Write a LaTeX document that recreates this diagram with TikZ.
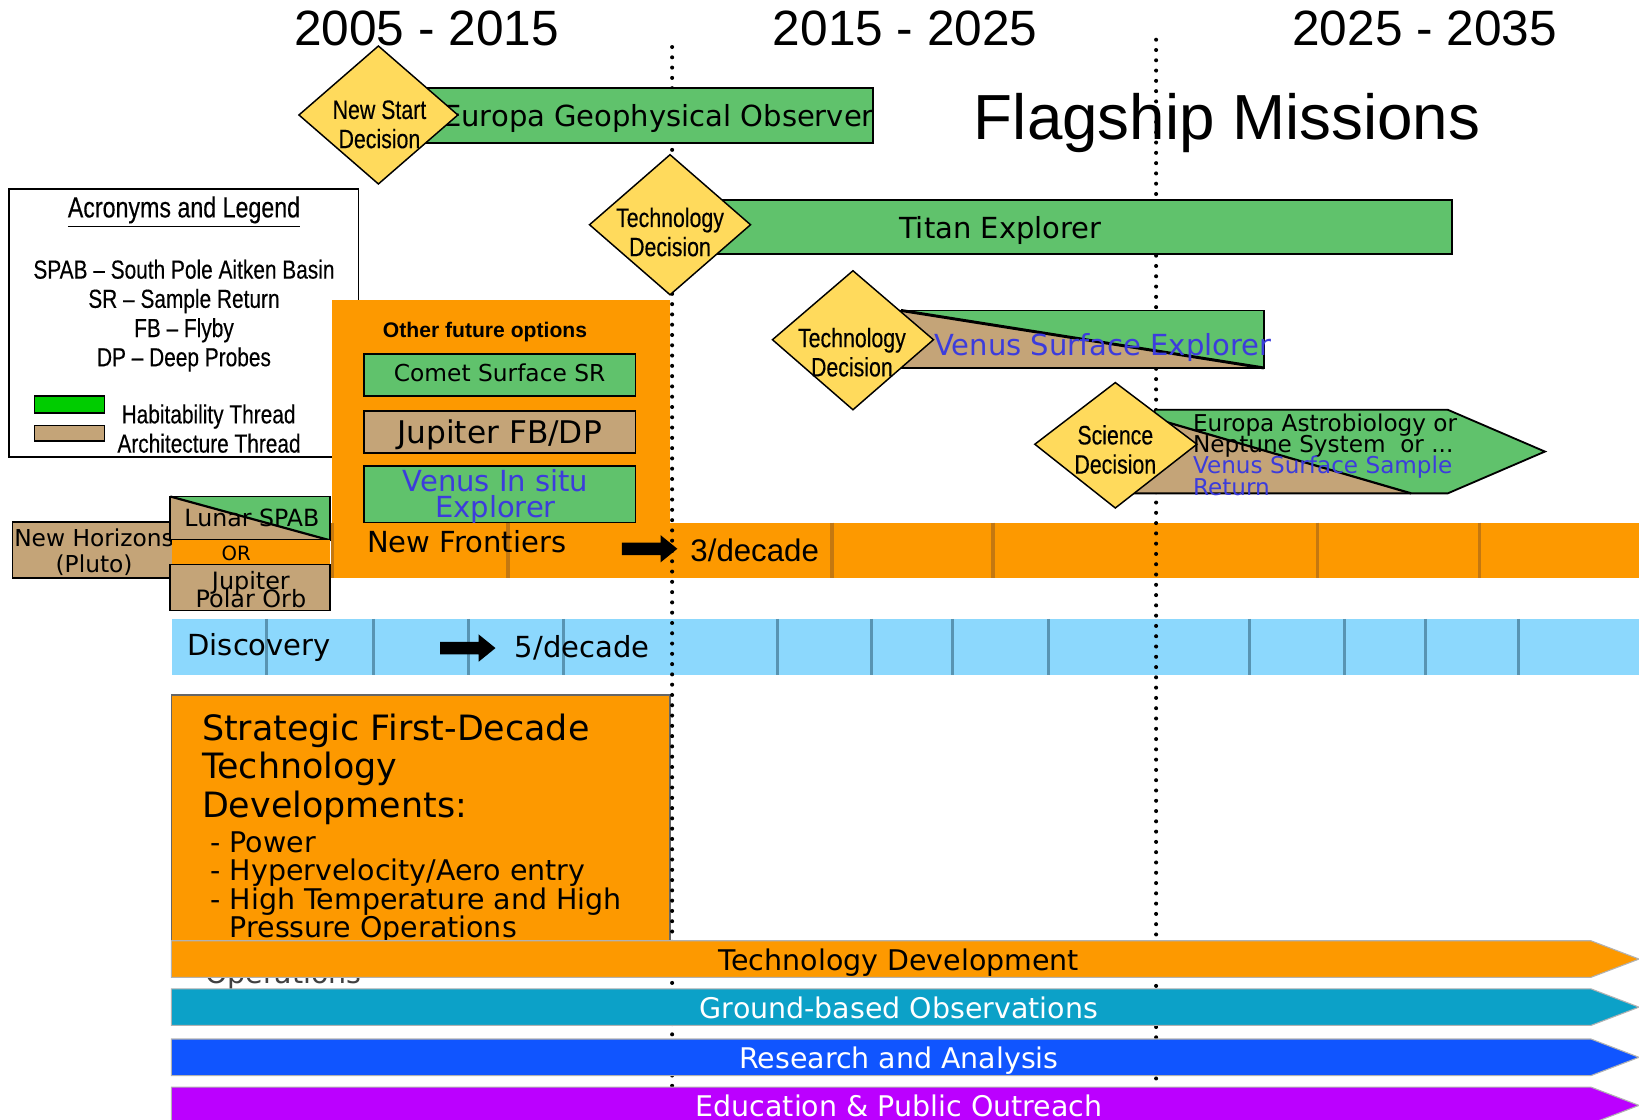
\documentclass[tikz,border=0pt]{standalone}
\usepackage{fontspec}
\setmainfont{DejaVu Sans}
\newfontfamily\narrowfont[FakeStretch=0.8,FakeBold=0.3]{Liberation Sans}
\newfontfamily\arialfont{Liberation Sans}
\usepackage{tikz}
\setlength{\lineskiplimit}{-100pt}
\definecolor{habgreen}{RGB}{96,194,108}
\definecolor{archtan}{RGB}{196,164,120}
\definecolor{decyellow}{RGB}{255,218,92}
\definecolor{nforange}{RGB}{253,153,0}
\definecolor{nfdark}{RGB}{196,120,16}
\definecolor{discblue}{RGB}{140,216,253}
\definecolor{discdark}{RGB}{88,148,178}
\definecolor{venusblue}{RGB}{60,60,220}
\definecolor{legendgreen}{RGB}{0,204,0}
\definecolor{gbteal}{RGB}{12,161,200}
\definecolor{rablue}{RGB}{16,85,255}
\definecolor{epopurple}{RGB}{187,0,255}
\tikzstyle{mbar}=[draw=black,line width=1pt]
\tikzstyle{hab}=[mbar,fill=habgreen]
\tikzstyle{arch}=[mbar,fill=archtan]
\tikzstyle{decision}=[draw=black,fill=decyellow,line width=0.8pt]
\tikzstyle{dtext}=[font=\narrowfont\fontsize{14.5}{15.9}\selectfont,align=center,inner sep=0pt]
\tikzstyle{legtext}=[font=\narrowfont\fontsize{14.2}{15.9}\selectfont,inner sep=0pt]
\tikzstyle{bartext}=[font=\fontsize{15.8}{18}\selectfont,inner sep=0pt]
\tikzstyle{smalltext}=[font=\fontsize{12.7}{14.2}\selectfont,inner sep=0pt,align=center]
\tikzstyle{bandtext}=[font=\fontsize{15.5}{18}\selectfont,inner sep=0pt,anchor=base]
\tikzstyle{band}=[draw=gray!60,line width=0.6pt]
\tikzstyle{yeartext}=[font=\arialfont\fontsize{27}{31}\selectfont,anchor=base,inner sep=0pt]
\tikzstyle{era}=[line width=2.2pt,dash pattern=on 0pt off 5.6pt,line cap=round]

\begin{document}
\begin{tikzpicture}[x=0.02cm,y=-0.02cm]
\useasboundingbox (0,0) rectangle (1568,1071);

\draw[line width=1pt] (9,181) rectangle (343,437);
\node[legtext,anchor=base,font=\narrowfont\fontsize{15.8}{18}\selectfont] (legtitle) at (176,208) {\underline{Acronyms and Legend}};
\node[legtext,align=center] (acronyms) at (176,302) {SPAB – South Pole Aitken Basin\\SR – Sample Return\\FB – Flyby\\DP – Deep Probes};
\draw[fill=legendgreen,line width=0.8pt] (33,379) rectangle (100,395);
\draw[fill=archtan,line width=0.8pt] (33,407) rectangle (100,422);
\node[legtext,anchor=base west] (habthread) at (116,405) {Habitability Thread};
\node[legtext,anchor=base west] (archthread) at (112,433) {Architecture Thread};

\draw[arch] (12,499) rectangle (172,553);
\node[smalltext] (nh) at (90,528) {New Horizons\\(Pluto)};
\fill[habgreen] (163,475) rectangle (316,517);
\fill[archtan] (163,475) -- (316,517) -- (163,517) -- cycle;
\draw[line width=1.2pt] (163,475) -- (316,517);
\draw[mbar] (163,475) rectangle (316,517);
\node[font=\fontsize{12.9}{15}\selectfont,anchor=base,inner sep=0pt] (lspab) at (241,504) {Lunar SPAB};
\fill[nforange] (165,517) rectangle (316,540);
\node[font=\fontsize{10.7}{12}\selectfont,anchor=base,inner sep=0pt] (orlabel) at (226,536) {OR};
\draw[arch] (163,540) rectangle (316,584);
\node[font=\fontsize{13}{9.8}\selectfont,align=center,inner sep=0pt] (jpo) at (240,564.5) {Jupiter\\Polar Orb};

\fill[nforange] (318,287) rectangle (641,553);
\node[font=\arialfont\bfseries\fontsize{11.5}{13}\selectfont,anchor=base,inner sep=0pt] (ofo) at (464,323) {Other future options};
\draw[hab] (348,339) rectangle (608,379);
\node[font=\fontsize{12.7}{15}\selectfont,anchor=base,inner sep=0pt] (comet) at (478,365) {Comet Surface SR};
\draw[arch] (348,393) rectangle (608,433);
\node[font=\fontsize{17}{20}\selectfont,anchor=base,inner sep=0pt] (jfbdp) at (478,424) {Jupiter FB/DP};
\draw[hab] (348,446) rectangle (608,500);
\node[font=\fontsize{15.8}{14.2}\selectfont,align=center,inner sep=0pt,text=venusblue] (vise) at (474,475) {Venus In situ\\Explorer};

\fill[nforange] (318,500) rectangle (1568,553);
\foreach \x in {318,486,796,950,1260,1415}
  \draw[nfdark,line width=1.7pt] (\x,500) -- (\x,553);
\fill[discblue] (165,592) rectangle (1568,646);
\foreach \x in {255,357,448,539,744,834,911,1003,1195,1286,1364,1453}
  \draw[discdark,line width=1.7pt] (\x,592) -- (\x,646);

\draw[fill=nforange,draw=black!60,line width=0.8pt] (164,665) rectangle (641,915);
\node[anchor=north west,align=left,inner sep=0pt,font=\fontsize{19}{21}\selectfont] (sfd) at (193,682.5) {Strategic First-Decade\\Technology\\Developments:};
\node[anchor=north west,align=left,inner sep=0pt,font=\fontsize{15.5}{15.5}\selectfont] (sfdlist) at (201,795) {- Power\\- Hypervelocity/Aero entry\\- High Temperature and High\\\phantom{- }Pressure Operations};
\node[anchor=base west,inner sep=0pt,font=\fontsize{15.5}{15.5}\selectfont,text=black!75] (ghostops) at (196,941) {Operations};

\node[font=\arialfont\fontsize{34.7}{40}\selectfont,anchor=base,inner sep=0pt] (flagship) at (1174,133) {Flagship Missions};

\coordinate (era1top) at (643,45);
\coordinate (era1bot) at (643,1040);
\coordinate (era2top) at (1106,38);
\coordinate (era2bot) at (1106,1035);
\draw[era] (era1top) -- (era1bot);
\draw[era] (era2top) -- (era2bot);

\node[bartext,anchor=base west] (nf) at (351,529) {New Frontiers};
\node[bartext,anchor=base west] (disc) at (179,627) {Discovery};
\foreach \ax/\ay in {595/525,421/620}
  \fill (\ax,\ay-6) -- (\ax+37,\ay-6) -- (\ax+37,\ay-13) -- (\ax+53,\ay) -- (\ax+37,\ay+13) -- (\ax+37,\ay+6) -- (\ax,\ay+6) -- cycle;
\node[font=\arialfont\fontsize{17}{20}\selectfont,anchor=base,inner sep=0pt] (nfrate) at (722,537) {3/decade};
\node[bartext,anchor=base] (discrate) at (557,629) {5/decade};

\node[yeartext] (dec1) at (408,44) {2005 - 2015};
\node[yeartext] (dec2) at (866,44) {2015 - 2025};
\node[yeartext] (dec3) at (1363,44) {2025 - 2035};

\draw[hab] (405,84) rectangle (835,137);
\node[bartext,anchor=base] (ego) at (630,121) {Europa Geophysical Observer};
\draw[decision] (286,110) -- (362,44) -- (438,110) -- (362,176) -- cycle;
\node[dtext] (nsd) at (363,119) {New Start\\Decision};

\draw[hab] (680,191) rectangle (1389,243);
\node[bartext,anchor=base] (titan) at (957,228) {Titan Explorer};
\draw[decision] (564,215) -- (641,148) -- (718,215) -- (641,282) -- cycle;
\node[dtext] (td1) at (641,222) {Technology\\Decision};

\fill[habgreen] (862,297) rectangle (1209,352);
\fill[archtan] (862,297) -- (1209,352) -- (862,352) -- cycle;
\draw[line width=1.6pt] (862,297) -- (1209,352);
\draw[mbar] (862,297) rectangle (1209,352);
\node[bartext,anchor=base,text=venusblue] (vse) at (1055,340) {Venus Surface Explorer};
\draw[decision] (739,325) -- (816,259) -- (893,325) -- (816,392) -- cycle;
\node[dtext] (td2) at (815,337) {Technology\\Decision};

\fill[habgreen] (1085,472) -- (1105,392) -- (1385,392) -- (1478,432) -- (1385,472) -- cycle;
\fill[archtan] (1085,472) -- (1103,400) -- (1350,472) -- cycle;
\draw[line width=1.2pt] (1103,400) -- (1350,472);
\draw[mbar] (1085,472) -- (1105,392) -- (1385,392) -- (1478,432) -- (1385,472) -- cycle;
\draw[decision] (990,425) -- (1067,366) -- (1145,425) -- (1067,486) -- cycle;
\node[dtext] (sd) at (1067,430) {Science\\Decision};
\node[anchor=west,align=left,inner sep=0pt,font=\fontsize{12.6}{11.6}\selectfont] (eab) at (1141,435) {Europa Astrobiology or\\Neptune System~ or ...\\\textcolor{venusblue}{Venus Surface Sample}\\\textcolor{venusblue}{Return}};

\foreach \yt/\col/\txt/\tc [count=\i] in {900/nforange/Technology Development/black,946/gbteal/Ground-based Observations/white,994/rablue/Research and Analysis/white,1040/epopurple/Education \& Public Outreach/white} {
  \draw[band,fill=\col] (164,\yt) -- (1522,\yt) -- (1568,\yt+17.5) -- (1522,\yt+35) -- (164,\yt+35) -- cycle;
  \node[bandtext,text=\tc] (band\i) at (860,\yt+28) {\txt};
}
\end{tikzpicture}
\end{document}
